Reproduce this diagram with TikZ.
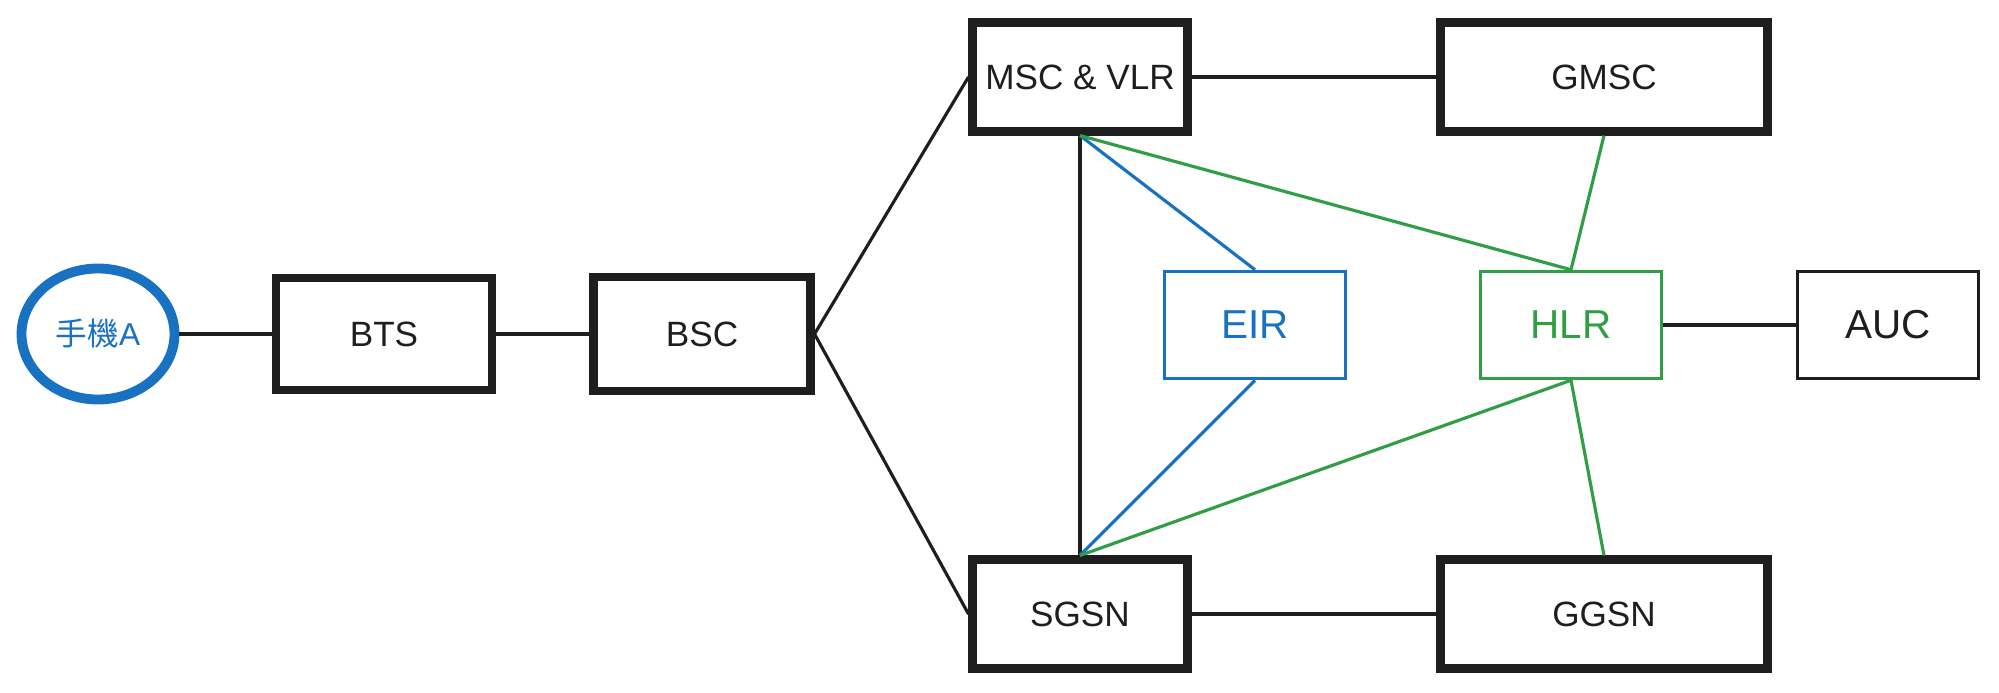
\documentclass[tikz,border=0pt]{standalone}
\usepackage{fontspec}
\setmainfont{Liberation Sans}
\newfontfamily\cjk{Noto Sans CJK TC}
\usetikzlibrary{positioning, shapes.geometric}
\definecolor{ink}{HTML}{1E1E1E}
\definecolor{blueink}{HTML}{1971C2}
\definecolor{greenink}{HTML}{2F9E44}

\begin{document}
\begin{tikzpicture}[on grid, auto,
	unit/.style={rectangle, draw=ink, line width=2.3pt, minimum width=2.15cm, minimum height=1.09cm, text=ink, font=\fontsize{10}{12}\selectfont},
	wide/.style={unit, minimum width=3.27cm},
	db/.style={rectangle, draw=ink, line width=1pt, minimum width=1.81cm, minimum height=1.07cm, text=ink, font=\fontsize{11.5}{14}\selectfont},
	phone/.style={ellipse, draw=blueink, line width=2.8pt, minimum width=1.53cm, minimum height=1.31cm, inner sep=0pt, text=blueink, font=\fontsize{9}{11}\selectfont},
	link/.style={draw=ink, line width=0.9pt}]
	\useasboundingbox (0,0) rectangle (19.99,6.92);
	\node[phone] (ms) at (0.98,3.58) {{\cjk 手機}A};
	\node[unit, minimum width=2.16cm, minimum height=1.12cm] (bts) [right=2.86cm of ms] {BTS};
	\node[unit, minimum width=2.17cm, minimum height=1.14cm] (bsc) [right=3.18cm of bts] {BSC};
	\node[unit] (msc) [above right=2.57cm and 3.78cm of bsc] {MSC \& VLR};
	\node[unit] (sgsn) [below=5.37cm of msc] {SGSN};
	\node[wide] (gmsc) [right=5.24cm of msc] {GMSC};
	\node[wide] (ggsn) [right=5.24cm of sgsn] {GGSN};
	\node[db, draw=blueink, text=blueink] (eir) [below right=2.48cm and 1.75cm of msc] {EIR};
	\node[db, draw=greenink, text=greenink] (hlr) [right=3.16cm of eir] {HLR};
	\node[db] (auc) [right=3.17cm of hlr] {AUC};
	\path [link]
	(ms) edge (bts)
	(bts) edge (bsc)
	(bsc.east) edge (msc.west)
	           edge (sgsn.west)
	(msc) edge (gmsc)
	(msc.south) edge (sgsn.north)
	(sgsn) edge (ggsn)
	(hlr) edge (auc);
	\path [link, draw=blueink]
	(msc.south) edge (eir.north)
	(eir.south) edge (sgsn.north);
	\path [link, draw=greenink]
	(msc.south) edge (hlr.north)
	(gmsc.south) edge (hlr.north)
	(hlr.south) edge (sgsn.north)
	            edge (ggsn.north);
\end{tikzpicture}
\end{document}
